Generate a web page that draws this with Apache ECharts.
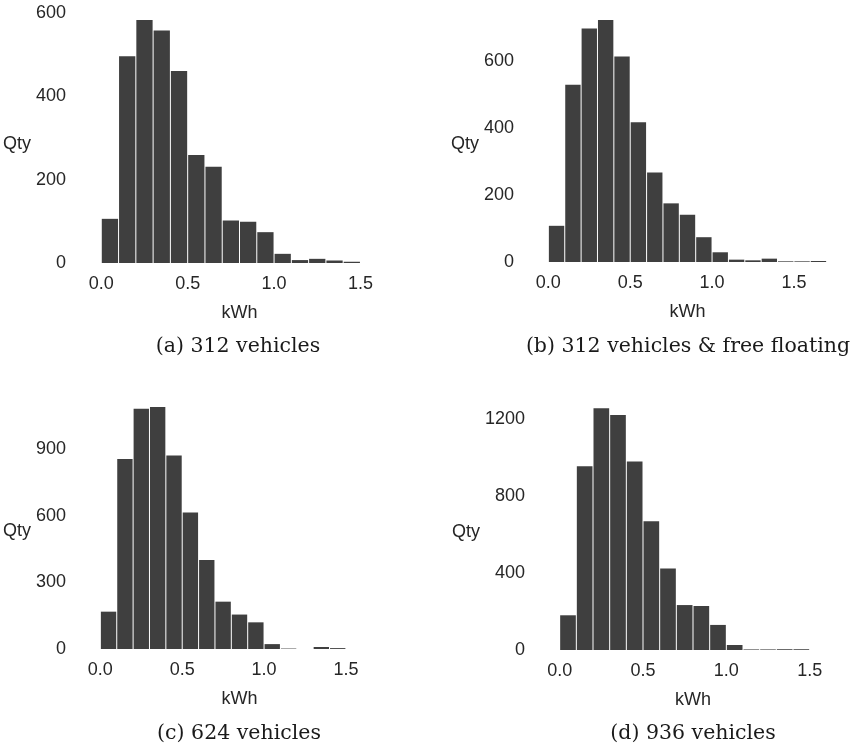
<!DOCTYPE html>
<html>
<head>
<meta charset="utf-8">
<script src="https://cdn.jsdelivr.net/npm/echarts@6/dist/echarts.min.js"></script>
<style>
  html, body { margin: 0; padding: 0; background: #fff; }
  #chart { width: 857px; height: 749px; }
</style>
</head>
<body>
<div id="chart"></div>
<script>
  // bin edges (kWh) and counts
  const edges = [0.0, 0.1, 0.2, 0.3, 0.4, 0.5, 0.6, 0.7, 0.8, 0.9, 1.0, 1.1, 1.2, 1.3, 1.4, 1.5, 1.6, 1.7]
  const qtyA = [106, 496, 583, 558, 461, 259, 231, 102, 99, 74, 22, 7, 10, 6, 3]
  const qtyB = [108, 529, 697, 722, 613, 417, 267, 175, 141, 74, 29, 7, 5, 10, 2, 2, 3]
  const qtyC = [168, 855, 1081, 1089, 871, 614, 400, 213, 155, 120, 22, 2, 0, 9, 4]
  const qtyD = [180, 953, 1254, 1218, 977, 667, 423, 233, 228, 130, 26, 3, 3, 4, 4]
  const xTicks = [0, 0.5, 1.0, 1.5]
  const yTicksA = [0, 200, 400, 600]
  const yTicksB = [0, 200, 400, 600]
  const yTicksC = [0, 300, 600, 900]
  const yTicksD = [0, 400, 800, 1200]
  const captions = ['(a) 312 vehicles', '(b) 312 vehicles & free floating', '(c) 624 vehicles', '(d) 936 vehicles']

  const panels = [
    { counts: qtyA, yTicks: yTicksA, yMax: 612, xMax: 1.7, grid: { left: 84, top: 8, width: 311, height: 255 }, nameGap: 50 },
    { counts: qtyB, yTicks: yTicksB, yMax: 758, xMax: 1.8, grid: { left: 532, top: 8, width: 311, height: 254 }, nameGap: 50 },
    { counts: qtyC, yTicks: yTicksC, yMax: 1143, xMax: 1.8, grid: { left: 84, top: 395, width: 311, height: 254 }, nameGap: 50 },
    { counts: qtyD, yTicks: yTicksD, yMax: 1317, xMax: 1.7, grid: { left: 543, top: 396, width: 300, height: 254 }, nameGap: 60 }
  ]
  const captionPos = [[238, 347], [688, 347], [239, 734], [693, 734]]

  const labelFont = { fontFamily: 'Liberation Sans', fontSize: 18, color: '#262626' }

  const renderItem = (params, api) => {
    const p0 = api.coord([api.value(0), api.value(2)])
    const p1 = api.coord([api.value(1), 0])
    return {
      type: 'rect',
      shape: { x: p0[0] + 0.5, y: p0[1], width: p1[0] - p0[0] - 1, height: Math.max(p1[1] - p0[1], 0) },
      style: { fill: '#3f3f3f' }
    }
  }

  const chart = echarts.init(document.getElementById('chart'))
  chart.setOption({
    animation: false,
    grid: panels.map(p => p.grid),
    xAxis: panels.map((p, i) => ({
      type: 'value',
      gridIndex: i,
      min: -0.1,
      max: p.xMax,
      name: 'kWh',
      nameLocation: 'middle',
      nameGap: 41,
      nameTextStyle: labelFont,
      axisLine: { show: false },
      axisTick: { show: false },
      splitLine: { show: false },
      axisLabel: {
        ...labelFont,
        margin: 12,
        customValues: xTicks,
        formatter: v => v.toFixed(1)
      }
    })),
    yAxis: panels.map((p, i) => ({
      type: 'value',
      gridIndex: i,
      min: 0,
      max: p.yMax,
      name: 'Qty',
      nameLocation: 'middle',
      nameRotate: 0,
      nameGap: p.nameGap,
      nameTextStyle: { ...labelFont, verticalAlign: 'top' },
      axisLine: { show: false },
      axisTick: { show: false },
      splitLine: { show: false },
      axisLabel: {
        ...labelFont,
        margin: 18,
        customValues: p.yTicks,
        formatter: v => String(v)
      }
    })),
    series: panels.map((p, i) => ({
      type: 'custom',
      xAxisIndex: i,
      yAxisIndex: i,
      renderItem: renderItem,
      data: p.counts.map((c, k) => [edges[k], edges[k + 1], c])
    })),
    graphic: captions.map((t, i) => ({
      type: 'text',
      x: captionPos[i][0],
      y: captionPos[i][1],
      style: {
        text: t,
        align: 'center',
        verticalAlign: 'middle',
        font: '20.5px "DejaVu Serif"',
        fill: '#1a1a1a'
      }
    }))
  })
</script>
</body>
</html>
